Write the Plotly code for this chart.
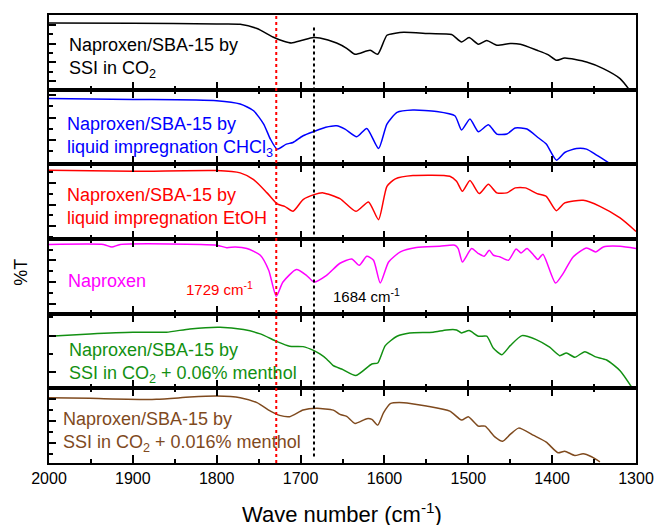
import plotly.graph_objects as go
from plotly.subplots import make_subplots

# ---------------- data (%T in arbitrary per-panel units) ----------------
wn_ssi_co2 = [2000,1900,1800,1772,1752,1733,1720,1711,1698,1685,1677,1657,1645,1635,1617,1608,1597,1587,1577,1546,1520,1508,1499,1488,1478,1466,1450,1438,1418,1405,1395,1385,1359,1339,1319,1308]
t_ssi_co2 = [66.6,66.3,65.6,65.3,61.0,52.6,48.3,46.6,49.3,52.0,51.6,46.6,41.3,35.3,39.3,35.3,54.3,56.3,57.3,56.0,55.0,47.6,52.0,45.3,49.0,44.3,46.0,45.3,39.3,35.0,29.3,31.6,27.6,21.0,11.0,0.0]

wn_chcl3 = [2000,1900,1800,1772,1756,1744,1736,1728,1717,1709,1697,1684,1670,1657,1647,1633,1621,1607,1597,1585,1566,1538,1516,1508,1498,1488,1476,1466,1454,1444,1430,1417,1407,1395,1385,1371,1359,1347,1331]
t_chcl3 = [65.8,64.8,63.5,60.2,53.5,40.2,25.2,15.2,20.2,21.8,28.5,32.8,37.0,38.5,35.2,27.5,35.8,15.8,40.2,51.8,54.2,52.8,48.5,34.2,45.2,32.5,39.5,30.2,30.2,36.2,35.2,26.8,20.2,4.2,11.8,15.8,15.2,9.2,0.8]

wn_etoh = [2000,1900,1800,1772,1756,1740,1728,1719,1709,1697,1684,1673,1653,1634,1619,1607,1597,1587,1566,1522,1514,1507,1498,1487,1476,1466,1454,1444,1432,1418,1407,1395,1385,1363,1343,1319,1300]
t_etoh = [68.6,67.6,68.3,66.0,59.3,46.0,35.0,32.6,27.6,39.3,44.3,46.0,40.3,27.6,37.0,19.3,52.6,60.0,63.3,62.6,57.6,47.6,58.3,45.3,54.6,46.0,46.0,51.0,51.0,45.3,42.6,28.3,36.0,38.6,32.6,21.0,7.6]

wn_naproxen = [2000,1935,1925,1915,1800,1788,1778,1764,1748,1738,1729,1721,1705,1693,1684,1669,1653,1639,1630,1621,1613,1605,1595,1581,1562,1534,1516,1512,1507,1496,1488,1481,1475,1470,1462,1452,1443,1437,1430,1422,1417,1411,1396,1387,1375,1359,1348,1339,1319,1300]
t_naproxen = [69.0,69.0,66.5,69.0,68.3,65.8,66.5,65.0,58.3,43.3,17.3,31.6,44.0,38.3,31.6,38.3,50.3,54.6,48.3,57.3,53.3,30.6,51.6,61.6,66.0,67.3,68.3,65.0,51.6,65.0,60.0,57.3,63.3,58.3,56.6,53.3,64.6,60.6,65.0,58.3,54.0,59.3,30.6,40.0,56.6,65.6,61.6,66.6,67.3,65.0]

wn_menthol_006 = [2000,1951,1900,1860,1832,1796,1768,1748,1728,1713,1697,1684,1677,1669,1661,1651,1634,1615,1608,1599,1585,1570,1542,1526,1514,1508,1499,1488,1478,1470,1460,1450,1436,1419,1403,1391,1383,1373,1361,1349,1335,1319,1305]
t_menthol_006 = [52.0,54.3,56.0,56.0,59.3,61.0,58.6,54.3,46.6,42.0,41.6,37.6,34.3,29.3,22.6,19.3,12.8,24.3,25.3,42.6,52.0,55.3,56.0,58.3,58.3,55.3,57.6,52.0,52.0,40.0,33.6,42.6,52.6,48.6,41.0,32.6,35.3,31.0,36.6,31.6,28.3,17.6,1.0]

wn_menthol_0016 = [2000,1951,1872,1832,1800,1772,1752,1736,1725,1713,1697,1681,1661,1653,1645,1635,1621,1615,1608,1601,1593,1577,1550,1522,1508,1500,1488,1480,1468,1459,1450,1440,1422,1407,1393,1385,1373,1363,1353,1343]
t_menthol_0016 = [65.2,64.5,63.5,65.8,66.8,65.2,60.2,51.8,47.5,46.2,52.8,54.5,52.8,48.5,46.5,39.5,44.2,43.5,37.8,50.2,59.2,60.2,56.8,51.8,42.8,46.2,36.8,36.8,25.8,21.8,28.5,34.8,27.5,20.8,10.2,11.8,7.5,9.2,6.2,1.2]

labels = [
    "Naproxen/SBA-15 by<br>SSI in CO<sub>2</sub>",
    "Naproxen/SBA-15 by<br>liquid impregnation CHCl<sub>3</sub>",
    "Naproxen/SBA-15 by<br>liquid impregnation EtOH",
    "Naproxen",
    "Naproxen/SBA-15 by<br>SSI in CO<sub>2</sub> + 0.06% menthol",
    "Naproxen/SBA-15 by<br>SSI in CO<sub>2</sub> + 0.016% menthol",
]
peak_positions = [1729, 1684]
peak_labels = ["1729 cm<sup>-1</sup>", "1684 cm<sup>-1</sup>"]
x_tick_values = [2000, 1900, 1800, 1700, 1600, 1500, 1400, 1300]

series = [
    (wn_ssi_co2, t_ssi_co2),
    (wn_chcl3, t_chcl3),
    (wn_etoh, t_etoh),
    (wn_naproxen, t_naproxen),
    (wn_menthol_006, t_menthol_006),
    (wn_menthol_0016, t_menthol_0016),
]
colors = ["#000000", "#0000FF", "#FF0000", "#FF00FF", "#129012", "#7F4A1E"]

# per-panel y tick setup (tick0, major dtick, minor dtick)
ytick_cfg = [(8.6, 18.7, 9.35), (1.8, 22.4, 11.2), (12.6, 21.7, 10.85),
             (10.0, 21.6, 10.8), (16.0, 36.6, 18.3), (20.2, 21.6, 10.8)]

FONT = "Liberation Sans, Arial, sans-serif"
W, H = 657, 525
ML, MR, MT, MB = 49, 21, 15, 61.5
PH = H - MT - MB

def py(pix):
    return (H - MB - pix) / PH

def px(pix):
    return (pix - ML) / (W - ML - MR)

fig = make_subplots(rows=6, cols=1, shared_xaxes=True, vertical_spacing=0)

for i, ((xs, ys), col) in enumerate(zip(series, colors)):
    fig.add_trace(go.Scatter(x=xs, y=ys, mode="lines",
                             line=dict(color=col, width=1.5, shape="spline", smoothing=0.6),
                             showlegend=False, hoverinfo="skip"), row=i + 1, col=1)
    t0, dt, mdt = ytick_cfg[i]
    fig.update_yaxes(row=i + 1, col=1, range=[0, 74.5], autorange=False, automargin=False,
                     showticklabels=False, ticks="inside", ticklen=7, tickwidth=2,
                     tick0=t0, dtick=dt, tickcolor="black",
                     minor=dict(ticks="inside", ticklen=4, tickwidth=2, tick0=t0, dtick=mdt, tickcolor="black"),
                     showline=True, linewidth=2, linecolor="black", mirror=True,
                     showgrid=False, zeroline=False)
    fig.update_xaxes(row=i + 1, col=1, range=[2000, 1300], autorange=False, automargin=False,
                     tickvals=x_tick_values, ticks="inside", ticklen=8, tickwidth=2, tickcolor="black",
                     minor=dict(ticks="inside", ticklen=4, tickwidth=2, dtick=50, tick0=2000, tickcolor="black"),
                     showline=True, linewidth=2, linecolor="black",
                     mirror=True if i == 0 else "ticks",
                     showgrid=False, zeroline=False,
                     showticklabels=(i == 5),
                     tickfont=dict(family=FONT, size=16, color="black"))

# vertical dotted marker lines
fig.add_shape(type="line", xref="x", yref="paper", x0=peak_positions[0], x1=peak_positions[0],
              y0=0, y1=1, line=dict(color="#FF0000", width=2, dash="dot"), layer="above")
fig.add_shape(type="line", xref="x", yref="paper", x0=peak_positions[1], x1=peak_positions[1],
              y0=py(457), y1=py(25), line=dict(color="#000000", width=2, dash="dot"), layer="above")

# panel labels
label_pos = [(66.7, 58), (65, 137), (65, 206.8), (66, 281), (66.7, 363), (60.7, 432.3)]
for text, col, (lx, ly) in zip(labels, colors, label_pos):
    fig.add_annotation(text=text, xref="paper", yref="paper", x=px(lx), y=py(ly),
                       xanchor="left", yanchor="middle", align="left", showarrow=False,
                       font=dict(family=FONT, size=18, color=col))

fig.add_annotation(text=peak_labels[0], xref="paper", yref="paper", x=px(184), y=py(289),
                   xanchor="left", yanchor="middle", showarrow=False,
                   font=dict(family=FONT, size=15, color="#FF0000"))
fig.add_annotation(text=peak_labels[1], xref="paper", yref="paper", x=px(330.7), y=py(296),
                   xanchor="left", yanchor="middle", showarrow=False,
                   font=dict(family=FONT, size=15, color="#000000"))

# axis titles
fig.add_annotation(text="Wave number (cm<sup>-1</sup>)", xref="paper", yref="paper",
                   x=px(342), y=py(514), xanchor="center", yanchor="middle", showarrow=False,
                   font=dict(family=FONT, size=22, color="black"))
fig.add_annotation(text="%T", xref="paper", yref="paper", x=px(21), y=py(273),
                   xanchor="center", yanchor="middle", textangle=-90, showarrow=False,
                   font=dict(family=FONT, size=18, color="black"))

fig.update_layout(width=W, height=H, autosize=False,
                  margin=dict(l=ML, r=MR, t=MT, b=MB, pad=0, autoexpand=False),
                  paper_bgcolor="white", plot_bgcolor="white",
                  font=dict(family=FONT, color="black"), showlegend=False)

fig.write_html("out.html", config={"displayModeBar": False, "responsive": False},
               post_script="document.body.style.margin='0px';")
